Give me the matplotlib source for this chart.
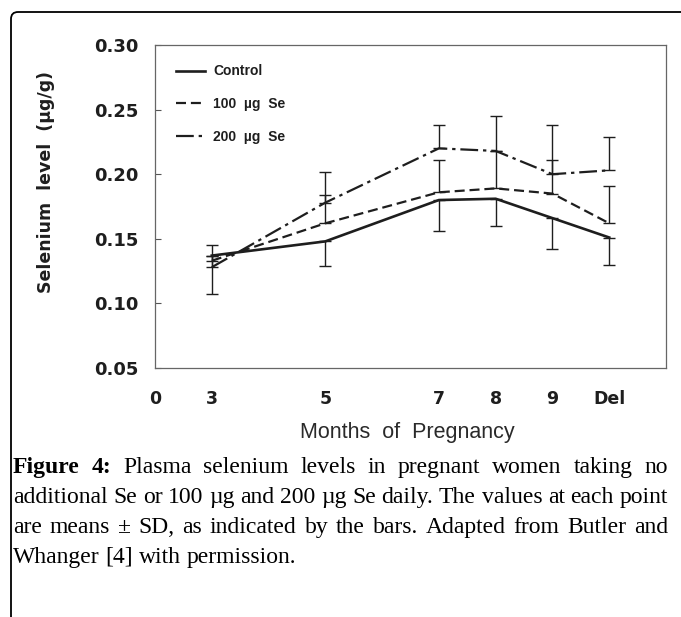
import matplotlib
matplotlib.use('Agg')
import matplotlib.pyplot as plt
from matplotlib.patches import FancyBboxPatch
from matplotlib.transforms import IdentityTransform

# Months of pregnancy (Del = delivery, drawn at month 10)
months = [3, 5, 7, 8, 9, 10]
tick_pos = [2, 3, 5, 7, 8, 9, 10]
tick_labels = ['0', '3', '5', '7', '8', '9', 'Del']

# Plasma selenium (ug/g), means and one-sided SD bars as drawn
control = [0.137, 0.148, 0.180, 0.181, 0.166, 0.151]
control_sd = [0.030, 0.019, 0.024, 0.021, 0.024, 0.021]
se100 = [0.133, 0.162, 0.186, 0.189, 0.185, 0.162]
se100_sd = [0.004, 0.022, 0.025, 0.029, 0.026, 0.029]
se200 = [0.128, 0.178, 0.220, 0.218, 0.200, 0.203]
se200_sd = [0.017, 0.024, 0.018, 0.027, 0.038, 0.026]

caption_lines = [
    ['Figure', '4:', 'Plasma', 'selenium', 'levels', 'in', 'pregnant', 'women', 'taking', 'no'],
    'additional Se or 100 \u00b5g and 200 \u00b5g Se daily. The values at each point'.split(),
    'are means \u00b1 SD, as indicated by the bars. Adapted from Butler and'.split(),
    'Whanger [4] with permission.'.split(),
]

ink = '#1e1e1e'
fig = plt.figure(figsize=(6.81, 6.17), dpi=100)
ax = fig.add_axes([155/681, 1 - 368/617, 511/681, 323/617])

zeros = [0] * len(months)
ax.plot(months, control, color=ink, lw=1.9, label='Control', zorder=3)
ax.plot(months, se100, color=ink, lw=1.6, dashes=(4.5, 2.2), label='100  \u00b5g  Se', zorder=3)
ax.plot(months, se200, color=ink, lw=1.6, dashes=(8, 2.2, 1.5, 2.2), label='200  \u00b5g  Se', zorder=3)

ax.errorbar(months, control, yerr=[control_sd, zeros], fmt='none', ecolor=ink, elinewidth=1.0, capsize=4.5, capthick=1.0)
ax.errorbar(months, se100, yerr=[zeros, se100_sd], fmt='none', ecolor=ink, elinewidth=1.0, capsize=4.5, capthick=1.0)
ax.errorbar(months, se200, yerr=[zeros, se200_sd], fmt='none', ecolor=ink, elinewidth=1.0, capsize=4.5, capthick=1.0)

ax.set_xlim(2, 11)
ax.set_ylim(0.05, 0.30)
ax.set_xticks(tick_pos, tick_labels)
ax.set_yticks([0.05, 0.10, 0.15, 0.20, 0.25, 0.30])
ax.yaxis.set_major_formatter(matplotlib.ticker.FormatStrFormatter('%.2f'))

for lab in ax.get_xticklabels() + ax.get_yticklabels():
    lab.set_family('DejaVu Sans')
    lab.set_fontweight('bold')
    lab.set_color(ink)
ax.tick_params(axis='y', direction='in', length=4, width=0.8, pad=12, labelsize=13, color='#555555')
ax.tick_params(axis='x', length=0, pad=16, labelsize=12.5)

for s in ax.spines.values():
    s.set_color('#666666')
    s.set_linewidth(0.9)

ax.set_ylabel('Selenium  level  (\u00b5g/g)', family='DejaVu Sans', fontweight='bold', fontsize=12.5, color=ink)
ax.yaxis.set_label_coords(-0.196, 0.575)
ax.set_xlabel('Months  of  Pregnancy', family='Liberation Sans', fontsize=15.5, color='#2a2a2a', va='center')
ax.xaxis.set_label_coords(0.494, -0.2)

# Legend
leg = ax.legend(loc='upper left', bbox_to_anchor=(0.041, 0.94), frameon=False,
                borderaxespad=0, borderpad=0, handlelength=2.1, handletextpad=0.6,
                labelspacing=1.35, prop={'family': 'Liberation Sans', 'weight': 'bold', 'size': 10})
for t in leg.get_texts():
    t.set_color(ink)

# Outer rounded frame (cut by the image edges)
frame = FancyBboxPatch((11, -30), 720, 617 - 12 + 30, boxstyle='round,pad=0,rounding_size=7',
                       transform=IdentityTransform(), fill=False, ec='black', lw=1.3, clip_on=False)
fig.add_artist(frame)

# Caption, justified between x0 and x1
x0, x1 = 13, 668
line_y = [467, 497, 527, 557]
fig.canvas.draw()
renderer = fig.canvas.get_renderer()
cap_size = 17
for i, words in enumerate(caption_lines):
    texts = []
    for j, w in enumerate(words):
        bold = (i == 0 and j < 2)
        t = fig.text(0, 0, w, fontsize=cap_size, family='Liberation Serif',
                     fontweight='bold' if bold else 'normal', color='black',
                     ha='left', va='baseline', transform=IdentityTransform())
        texts.append(t)
    widths = [t.get_window_extent(renderer).width for t in texts]
    if i < len(caption_lines) - 1:
        gap = (x1 - x0 - sum(widths)) / (len(words) - 1)
    else:
        gap = cap_size * 100 / 72 * 0.25
    x = x0
    yb = 617 - line_y[i] - 6
    for t, w in zip(texts, widths):
        t.set_position((x, yb))
        x += w + gap

fig.savefig('out.png', dpi=100)
